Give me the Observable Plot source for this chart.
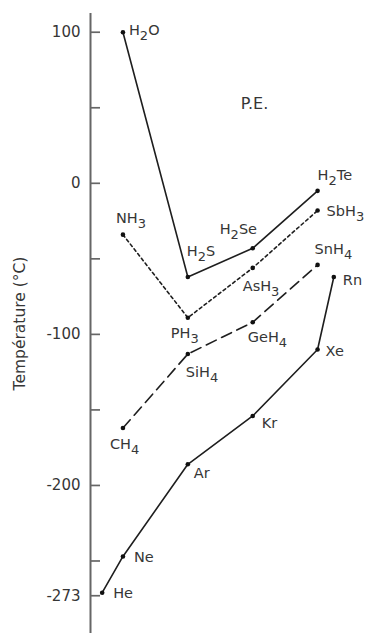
<!DOCTYPE html>
<html>
<head>
<meta charset="utf-8">
<script src="https://cdn.jsdelivr.net/npm/d3@7"></script>
<script src="https://cdn.jsdelivr.net/npm/@observablehq/plot@0.6"></script>
<style>
  html, body { margin: 0; padding: 0; background: #fff; }
  #chart svg { display: block; }
</style>
</head>
<body>
<div id="chart"></div>
<script>
// Column (period) positions
const periods = [2, 3, 4, 5];

// Group 16 hydrides
const g16Names = ["H₂O", "H₂S", "H₂Se", "H₂Te"];
const g16Temps = [100, -62, -43, -5];

// Group 15 hydrides
const g15Names = ["NH₃", "PH₃", "AsH₃", "SbH₃"];
const g15Temps = [-34, -89, -56, -18];

// Group 14 hydrides
const g14Names = ["CH₄", "SiH₄", "GeH₄", "SnH₄"];
const g14Temps = [-162, -113, -92, -54];

// Noble gases
const g18Names = ["He", "Ne", "Ar", "Kr", "Xe", "Rn"];
const g18Periods = [1.68, 2, 3, 4, 5, 5.25];
const g18Temps = [-271, -247, -186, -154, -110, -62];

// Y axis ticks
const yTickLabels = [100, 0, -100, -200, -273];
const yTickMarks = [100, 50, 0, -50, -100, -150, -200, -250, -273];
const yDomain = [-298, 112.4];
const xDomain = [1.5, 5.8];

const yLabel = "Température (°C)";
const annotation = "P.E.";

// Label placement (styling only)
const labelPlacement = {
  "H₂O": [6, -2], "H₂S": [-1, -26], "H₂Se": [-33, -19], "H₂Te": [0, -15],
  "NH₃": [-7, -16], "PH₃": [-17, 16], "AsH₃": [-10, 18], "SbH₃": [9, 1],
  "CH₄": [-13, 16], "SiH₄": [-2, 18], "GeH₄": [-5, 15], "SnH₄": [-3, -16],
  "He": [11, 1], "Ne": [11, 1], "Ar": [6, 9], "Kr": [9, 7], "Xe": [8, 2], "Rn": [9, 3]
};

const rows = (names, xs, temps, group) => names.map((n, i) => ({name: n, period: xs[i], temp: temps[i], group}));
const s16 = rows(g16Names, periods, g16Temps, "16");
const s15 = rows(g15Names, periods, g15Temps, "15");
const s14 = rows(g14Names, periods, g14Temps, "14");
const s18 = rows(g18Names, g18Periods, g18Temps, "18");
const all = [...s16, ...s15, ...s14, ...s18];

const ink = "#1e1e1e";
const textInk = "#363636";
const font = "DejaVu Sans, sans-serif";

const labelMarks = all.map(d => Plot.text([d], {
  x: "period", y: "temp", text: "name",
  dx: labelPlacement[d.name][0], dy: labelPlacement[d.name][1],
  textAnchor: "start", fontSize: 14.5, fill: textInk, fontFamily: font
}));

const chart = Plot.plot({
  width: 373,
  height: 633,
  marginLeft: 90,
  marginRight: 4,
  marginTop: 13,
  marginBottom: 0,
  style: {fontFamily: font, background: "#fff"},
  x: {domain: xDomain, axis: null},
  y: {domain: yDomain},
  marks: [
    Plot.ruleX([xDomain[0]], {stroke: "#666", strokeWidth: 2}),
    Plot.axisY({
      ticks: yTickMarks, tickSize: -10, tickFormat: () => "", label: null,
      stroke: "#666", strokeWidth: 1.7
    }),
    Plot.axisY({
      ticks: yTickLabels, tickSize: 0, tickPadding: 10,
      tickFormat: d => String(d),
      fontSize: 15, fill: textInk, color: textInk,
      label: null
    }),
    Plot.text([yLabel], {
      frameAnchor: "left", dx: -70, text: d => d, rotate: -90,
      textAnchor: "middle", fontSize: 15.5, fill: textInk, fontFamily: font
    }),
    Plot.line(s16, {x: "period", y: "temp", stroke: ink, strokeWidth: 1.6}),
    Plot.line(s15, {x: "period", y: "temp", stroke: ink, strokeWidth: 1.6, strokeDasharray: "3,3"}),
    Plot.line(s14, {x: "period", y: "temp", stroke: ink, strokeWidth: 1.6, strokeDasharray: "11,6"}),
    Plot.line(s18, {x: "period", y: "temp", stroke: ink, strokeWidth: 1.6}),
    Plot.dot(all, {x: "period", y: "temp", r: 2.3, fill: "#111", stroke: "none"}),
    ...labelMarks,
    Plot.text([annotation], {
      frameAnchor: "top-left", dx: 164, dy: 84, text: d => d,
      textAnchor: "middle", fontSize: 16, fill: textInk, fontFamily: font
    })
  ]
});

// Render Unicode subscript digits as lowered, full-height digits (still real text)
const subMap = {"₀":"0","₁":"1","₂":"2","₃":"3","₄":"4","₅":"5","₆":"6","₇":"7","₈":"8","₉":"9"};
chart.querySelectorAll("text").forEach(t => {
  const s = t.textContent;
  if (!/[₀-₉]/.test(s)) return;
  t.textContent = "";
  const ns = "http://www.w3.org/2000/svg";
  let lowered = false;
  for (const ch of s) {
    const isSub = ch in subMap;
    const span = document.createElementNS(ns, "tspan");
    span.textContent = isSub ? subMap[ch] : ch;
    if (isSub && !lowered) { span.setAttribute("dy", "5"); span.setAttribute("font-size", "13"); lowered = true; }
    else if (!isSub && lowered) { span.setAttribute("dy", "-5"); lowered = false; }
    else if (isSub) { span.setAttribute("font-size", "13"); }
    t.appendChild(span);
  }
});

document.getElementById("chart").appendChild(chart);
</script>
</body>
</html>
